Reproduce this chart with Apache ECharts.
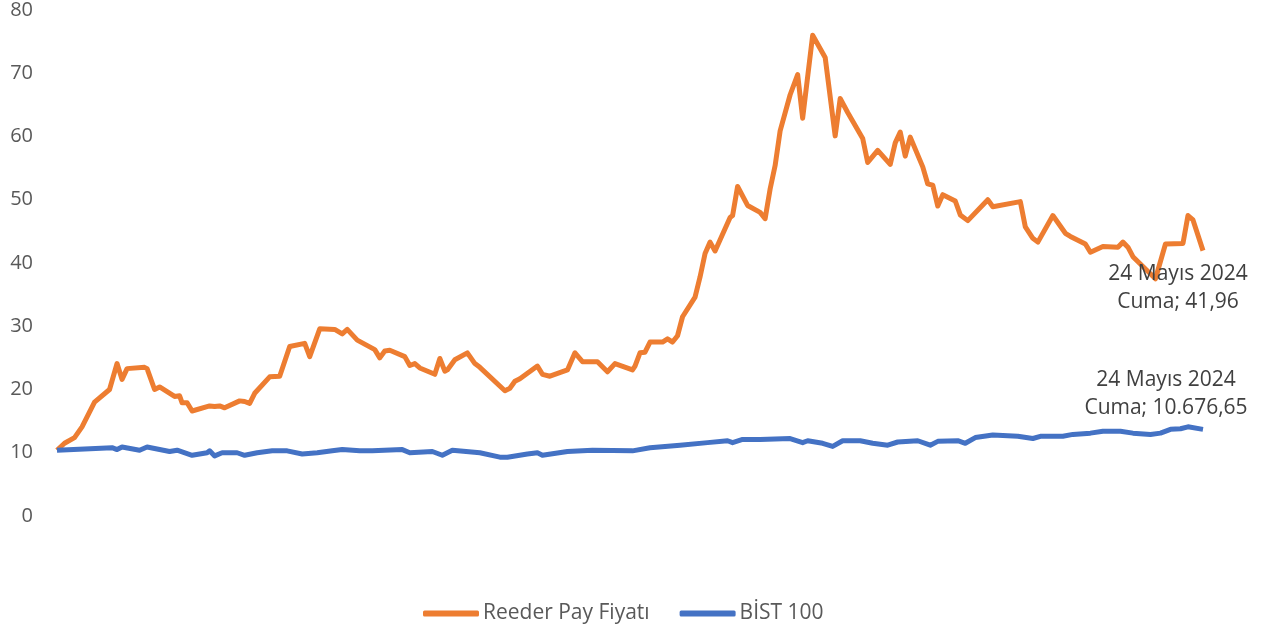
<!DOCTYPE html>
<html>
<head>
<meta charset="utf-8">
<script src="https://cdn.jsdelivr.net/npm/echarts@6/dist/echarts.min.js"></script>
<style>
  html, body { margin: 0; padding: 0; background: #fff; }
  #d { width: 1270px; height: 631px; }
</style>
</head>
<body>
<div id="d"></div>
<script>
// x = işlem günü sırası (0..458), y = değer
var reederX = [0,3,7,10,15,21,24,26,28,35,36,39,41,47,49,50,52,54,61,63,65,67,73,75,77,79,85,89,93,99,101,105,111,114,116,120,127,129,131,133,139,141,143,145,151,153,155,156,159,164,167,169,179,181,183,185,192,194,197,204,207,210,216,220,223,230,231,233,235,237,242,244,246,248,250,255,257,259,261,263,269,270,272,276,281,283,285,287,289,293,296,298,302,307,311,313,316,322,324,328,333,335,337,339,341,346,348,350,352,354,359,361,364,372,374,385,387,390,392,398,403,405,411,413,418,424,426,428,430,439,443,450,452,454,458];
var reederY = [10.4,11.5,12.4,14.1,18.0,20.0,24.1,21.6,23.3,23.5,23.3,20.0,20.4,18.9,19.0,17.9,17.9,16.6,17.4,17.3,17.4,17.1,18.2,18.1,17.8,19.4,22.0,22.1,26.8,27.3,25.2,29.6,29.5,28.8,29.5,27.8,26.3,25.0,26.1,26.2,25.2,23.8,24.1,23.4,22.4,24.9,22.9,23.1,24.7,25.8,24.1,23.5,19.8,20.2,21.3,21.7,23.7,22.4,22.1,23.1,25.8,24.4,24.4,22.8,24.1,23.1,23.7,25.8,25.9,27.5,27.5,28.0,27.5,28.5,31.5,34.6,37.8,41.5,43.3,41.9,47.2,47.5,52.1,49.1,48.0,47.0,51.7,55.4,60.9,66.6,69.8,62.9,76.0,72.5,60.1,66.0,63.8,59.7,55.9,57.8,55.6,59.0,60.7,56.9,59.9,55.2,52.5,52.3,49.0,50.8,49.8,47.6,46.7,50.0,48.9,49.7,45.7,43.9,43.3,47.5,44.7,44.2,43.0,41.7,42.6,42.5,43.3,42.5,41.0,37.5,43.0,43.1,47.5,46.8,41.96];

var bistX = [0,22,24,26,33,36,45,48,54,60,61,63,66,72,75,80,86,92,98,104,110,114,121,126,138,141,150,154,158,169,177,180,188,192,194,204,214,230,237,249,260,268,270,274,281,293,298,300,306,310,314,321,326,332,336,344,349,352,360,363,367,374,384,390,393,402,406,413,418,425,430,437,441,445,449,452,458];
var bistY = [10.4,10.8,10.5,10.9,10.4,10.9,10.2,10.4,9.6,10.0,10.3,9.5,10.0,10.0,9.6,10.0,10.3,10.3,9.8,10.0,10.3,10.5,10.3,10.3,10.5,10.0,10.2,9.6,10.4,10.0,9.3,9.3,9.8,10.0,9.6,10.2,10.4,10.3,10.8,11.2,11.6,11.9,11.6,12.1,12.1,12.25,11.6,11.9,11.5,11.0,11.9,11.9,11.5,11.2,11.7,11.9,11.2,11.8,11.9,11.5,12.4,12.8,12.6,12.25,12.6,12.6,12.9,13.1,13.4,13.4,13.1,12.9,13.1,13.7,13.8,14.1,13.7];

var yTicks = [0, 10, 20, 30, 40, 50, 60, 70, 80];
var seriesNames = ['Reeder Pay Fiyatı', 'BİST 100'];
var endLabels = ['24 Mayıs 2024\nCuma; 41,96', '24 Mayıs 2024\nCuma; 10.676,65'];

function pairs(xs, ys) {
  var out = [];
  for (var i = 0; i < xs.length; i++) out.push([xs[i], ys[i]]);
  return out;
}

var font = '"Open Sans", sans-serif';
var myChart = echarts.init(document.getElementById('d'));
var option = {
  animation: false,
  grid: { left: 57, right: 67, top: 9, bottom: 115 },
  legend: {
    data: seriesNames,
    top: 598,
    left: 418,
    icon: 'roundRect',
    itemWidth: 56,
    itemHeight: 6,
    itemGap: 30,
    textStyle: { color: '#595959', fontSize: 21, fontFamily: font, padding: [0, 0, 0, -1] }
  },
  xAxis: {
    type: 'value',
    min: 0,
    max: 458,
    show: false
  },
  yAxis: {
    type: 'value',
    min: yTicks[0],
    max: yTicks[yTicks.length - 1],
    interval: 10,
    axisLine: { show: false },
    axisTick: { show: false },
    splitLine: { show: false },
    axisLabel: { color: '#595959', fontSize: 20, fontFamily: font, margin: 24 }
  },
  series: [
    {
      name: seriesNames[0],
      type: 'line',
      data: pairs(reederX, reederY),
      showSymbol: false,
      color: '#ED7D31',
      lineStyle: { width: 5, color: '#ED7D31', join: 'round' },
      markPoint: {
        symbol: 'circle',
        symbolSize: 1,
        itemStyle: { color: 'rgba(0,0,0,0)' },
        label: {
          show: true,
          position: 'bottom',
          distance: 9,
          offset: [-25, 0],
          align: 'center',
          lineHeight: 28,
          color: '#404040',
          fontSize: 21,
          fontFamily: font,
          formatter: endLabels[0]
        },
        data: [{ coord: [reederX[reederX.length - 1], reederY[reederY.length - 1]] }]
      }
    },
    {
      name: seriesNames[1],
      type: 'line',
      data: pairs(bistX, bistY),
      showSymbol: false,
      color: '#4472C4',
      lineStyle: { width: 5, color: '#4472C4', join: 'round' },
      markPoint: {
        symbol: 'circle',
        symbolSize: 1,
        itemStyle: { color: 'rgba(0,0,0,0)' },
        label: {
          show: true,
          position: 'top',
          distance: 7,
          offset: [-37, 0],
          align: 'center',
          lineHeight: 28,
          color: '#404040',
          fontSize: 21,
          fontFamily: font,
          formatter: endLabels[1]
        },
        data: [{ coord: [bistX[bistX.length - 1], bistY[bistY.length - 1]] }]
      }
    }
  ]
};
myChart.setOption(option);
</script>
</body>
</html>
